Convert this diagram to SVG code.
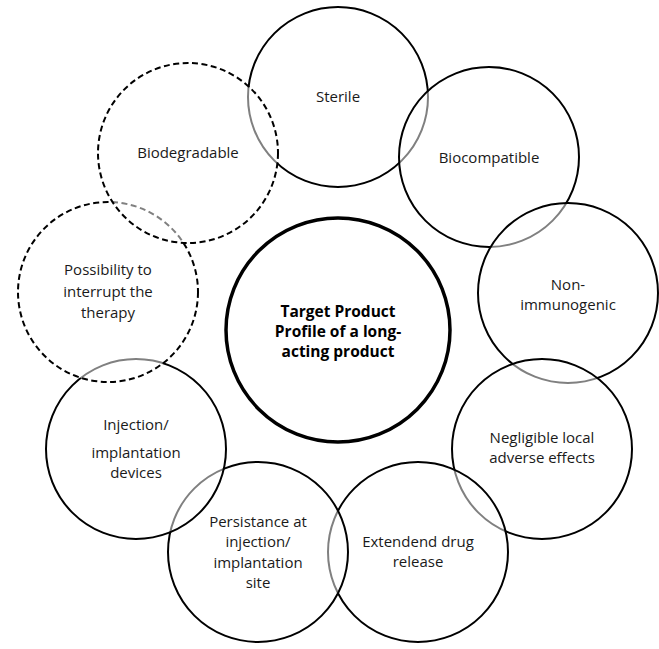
<svg xmlns="http://www.w3.org/2000/svg" width="659" height="649" viewBox="0 0 659 649">
<style>
.c{fill:#fff;fill-opacity:0.5;stroke:#000;stroke-width:2}
.d{stroke-dasharray:6 3.5}
.m{fill:#fff;stroke:#000;stroke-width:3.5}
text{font-family:"Open Sans","Liberation Sans",sans-serif;font-size:15px;fill:#1a1a1a;text-anchor:middle}
.b{font-weight:bold;font-size:15.5px;fill:#000}
</style>
<rect width="659" height="649" fill="#fff"/>
<g id="center"><circle class="m" cx="338" cy="330" r="112"/><text class="b" x="338" y="317">Target Product</text><text class="b" x="338" y="337">Profile of a long-</text><text class="b" x="338" y="357">acting product</text></g>
<g id="sterile"><circle class="c" cx="338" cy="97" r="90"/><text x="338" y="102">Sterile</text></g>
<g id="biocompatible"><circle class="c" cx="489" cy="157" r="90"/><text x="489" y="163">Biocompatible</text></g>
<g id="nonimmunogenic"><circle class="c" cx="568" cy="293" r="90"/><text x="568" y="290">Non-</text><text x="568" y="310">immunogenic</text></g>
<g id="negligible"><circle class="c" cx="542" cy="449" r="90"/><text x="542" y="443">Negligible local</text><text x="542" y="463">adverse effects</text></g>
<g id="extendend"><circle class="c" cx="418" cy="552" r="90"/><text x="418" y="547">Extendend drug</text><text x="418" y="567">release</text></g>
<g id="persistance"><circle class="c" cx="258" cy="552" r="90"/><text x="258" y="527">Persistance at</text><text x="258" y="547">injection/</text><text x="258" y="568">implantation</text><text x="258" y="588">site</text></g>
<g id="injection"><circle class="c" cx="136" cy="449" r="90"/><text x="136" y="430">Injection/</text><text x="136" y="458">implantation</text><text x="136" y="478">devices</text></g>
<g id="possibility"><circle class="c d" cx="108" cy="292" r="90"/><text x="108" y="275">Possibility to</text><text x="108" y="297">interrupt the</text><text x="108" y="318">therapy</text></g>
<g id="biodegradable"><circle class="c d" cx="188" cy="153" r="90"/><text x="188" y="158">Biodegradable</text></g>
<g id="connectors"></g>
</svg>
